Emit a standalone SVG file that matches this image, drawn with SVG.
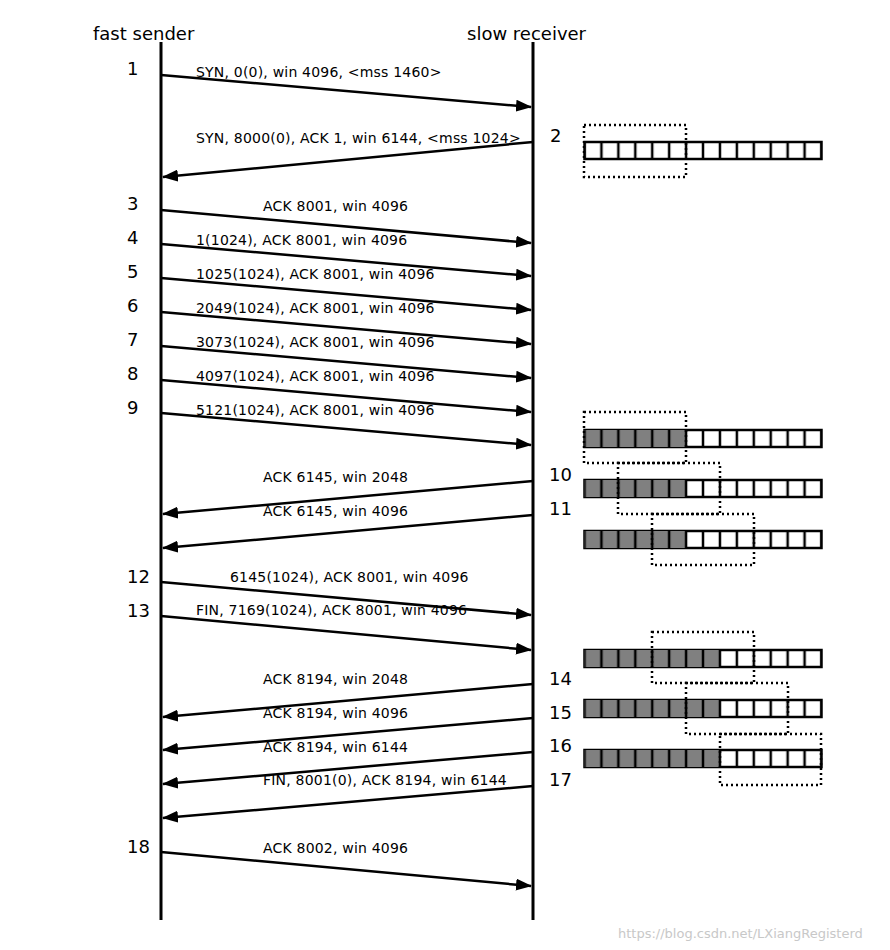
<svg xmlns="http://www.w3.org/2000/svg" width="890" height="950" viewBox="0 0 890 950">
<defs>
<marker id="ah" markerWidth="16" markerHeight="12" refX="15" refY="6" orient="auto" markerUnits="userSpaceOnUse"><path d="M0,0 L16,6 L0,12 z" fill="#000"/></marker>
<pattern id="buf" width="16.93" height="17" patternUnits="userSpaceOnUse" x="584.5" y="0"><rect x="-1.25" y="0" width="2.5" height="17" fill="#000"/><rect x="15.68" y="0" width="2.5" height="17" fill="#000"/></pattern>
</defs>
<style>
.t{font-family:"DejaVu Sans",sans-serif;font-size:14px;letter-spacing:0.2px;fill:#000}
.n{font-family:"DejaVu Sans",sans-serif;font-size:18px;fill:#000}
.m{stroke:#000;stroke-width:2.5;marker-end:url(#ah)}
.w{fill:none;stroke:#000;stroke-width:2.5;stroke-dasharray:2 3}
.c{fill:#fff;stroke:#000;stroke-width:2.5}
.s{fill:#808080}
</style>
<rect width="890" height="950" fill="#fff"/>
<text class="n" x="93" y="40">fast sender</text>
<text class="n" x="467" y="40">slow receiver</text>
<g id="lifelines" stroke="#000" stroke-width="3"><line x1="161" y1="42" x2="161" y2="920"/><line x1="533" y1="42" x2="533" y2="920"/></g>
<g id="connectors">
<line class="m" x1="161" y1="75" x2="531" y2="107"/>
<line class="m" x1="533" y1="142" x2="163" y2="177"/>
<line class="m" x1="161" y1="210" x2="531" y2="243"/>
<line class="m" x1="161" y1="244" x2="531" y2="276"/>
<line class="m" x1="161" y1="278" x2="531" y2="310"/>
<line class="m" x1="161" y1="312" x2="531" y2="344"/>
<line class="m" x1="161" y1="346" x2="531" y2="378"/>
<line class="m" x1="161" y1="380" x2="531" y2="412"/>
<line class="m" x1="161" y1="413" x2="531" y2="445"/>
<line class="m" x1="533" y1="481" x2="163" y2="514"/>
<line class="m" x1="533" y1="515" x2="163" y2="548"/>
<line class="m" x1="161" y1="582" x2="531" y2="615"/>
<line class="m" x1="161" y1="616" x2="531" y2="650"/>
<line class="m" x1="533" y1="684" x2="163" y2="717"/>
<line class="m" x1="533" y1="718" x2="163" y2="750"/>
<line class="m" x1="533" y1="752" x2="163" y2="784"/>
<line class="m" x1="533" y1="786" x2="163" y2="818"/>
<line class="m" x1="161" y1="852" x2="531" y2="886"/>
</g>
<g id="labels">
<text class="t" x="196" y="77">SYN, 0(0), win 4096, &lt;mss 1460&gt;</text>
<text class="t" x="196" y="143">SYN, 8000(0), ACK 1, win 6144, &lt;mss 1024&gt;</text>
<text class="t" x="263" y="211">ACK 8001, win 4096</text>
<text class="t" x="196" y="245">1(1024), ACK 8001, win 4096</text>
<text class="t" x="196" y="279">1025(1024), ACK 8001, win 4096</text>
<text class="t" x="196" y="313">2049(1024), ACK 8001, win 4096</text>
<text class="t" x="196" y="347">3073(1024), ACK 8001, win 4096</text>
<text class="t" x="196" y="381">4097(1024), ACK 8001, win 4096</text>
<text class="t" x="196" y="415">5121(1024), ACK 8001, win 4096</text>
<text class="t" x="263" y="482">ACK 6145, win 2048</text>
<text class="t" x="263" y="516">ACK 6145, win 4096</text>
<text class="t" x="230" y="582">6145(1024), ACK 8001, win 4096</text>
<text class="t" x="196" y="615">FIN, 7169(1024), ACK 8001, win 4096</text>
<text class="t" x="263" y="684">ACK 8194, win 2048</text>
<text class="t" x="263" y="718">ACK 8194, win 4096</text>
<text class="t" x="263" y="752">ACK 8194, win 6144</text>
<text class="t" x="263" y="785">FIN, 8001(0), ACK 8194, win 6144</text>
<text class="t" x="263" y="853">ACK 8002, win 4096</text>
</g>
<g id="numbers">
<text class="n" x="127" y="75">1</text>
<text class="n" x="550" y="142">2</text>
<text class="n" x="127" y="210">3</text>
<text class="n" x="127" y="244">4</text>
<text class="n" x="127" y="278">5</text>
<text class="n" x="127" y="312">6</text>
<text class="n" x="127" y="346">7</text>
<text class="n" x="127" y="380">8</text>
<text class="n" x="127" y="414">9</text>
<text class="n" x="549" y="481">10</text>
<text class="n" x="549" y="515">11</text>
<text class="n" x="127" y="583">12</text>
<text class="n" x="127" y="617">13</text>
<text class="n" x="549" y="685">14</text>
<text class="n" x="549" y="719">15</text>
<text class="n" x="549" y="752">16</text>
<text class="n" x="549" y="786">17</text>
<text class="n" x="127" y="853">18</text>
</g>
<g id="buffers">
<g id="buf2"><rect class="c" x="584.5" y="142" width="237" height="17"/><rect x="584.5" y="142" width="237" height="17" fill="url(#buf)"/><rect class="w" x="584" y="125" width="102" height="52"/></g>
<g id="buf9"><rect class="c" x="584.5" y="430" width="237" height="17"/><rect class="s" x="584.5" y="430" width="101.6" height="17"/><rect x="584.5" y="430" width="237" height="17" fill="url(#buf)"/><rect class="w" x="584" y="412" width="102" height="51"/></g>
<g id="buf10"><rect class="c" x="584.5" y="480" width="237" height="17"/><rect class="s" x="584.5" y="480" width="101.6" height="17"/><rect x="584.5" y="480" width="237" height="17" fill="url(#buf)"/><rect class="w" x="618" y="463" width="102" height="51"/></g>
<g id="buf11"><rect class="c" x="584.5" y="531" width="237" height="17"/><rect class="s" x="584.5" y="531" width="101.6" height="17"/><rect x="584.5" y="531" width="237" height="17" fill="url(#buf)"/><rect class="w" x="652" y="514" width="102" height="51"/></g>
<g id="buf13"><rect class="c" x="584.5" y="650" width="237" height="17"/><rect class="s" x="584.5" y="650" width="135.4" height="17"/><rect x="584.5" y="650" width="237" height="17" fill="url(#buf)"/><rect class="w" x="652" y="632" width="102" height="51"/></g>
<g id="buf14"><rect class="c" x="584.5" y="700" width="237" height="17"/><rect class="s" x="584.5" y="700" width="135.4" height="17"/><rect x="584.5" y="700" width="237" height="17" fill="url(#buf)"/><rect class="w" x="686" y="683" width="102" height="51"/></g>
<g id="buf16"><rect class="c" x="584.5" y="750" width="237" height="17"/><rect class="s" x="584.5" y="750" width="135.4" height="17"/><rect x="584.5" y="750" width="237" height="17" fill="url(#buf)"/><rect class="w" x="720" y="734" width="101" height="51"/></g>
</g>
<text x="618" y="938" style="font-family:'DejaVu Sans',sans-serif;font-size:13px;fill:#c8c8c8">https://blog.csdn.net/LXiangRegisterd</text>
</svg>
